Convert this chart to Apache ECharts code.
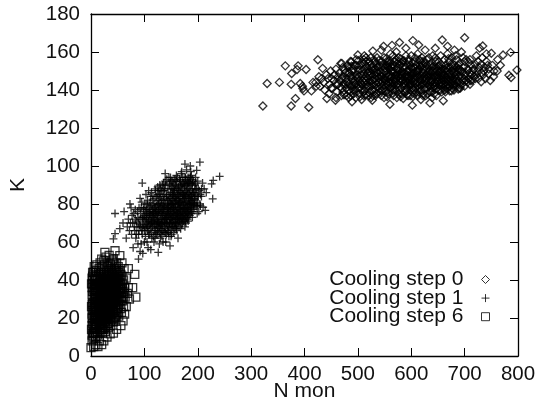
<!DOCTYPE html>
<html><head><meta charset="utf-8">
<script src="https://cdn.jsdelivr.net/npm/echarts@6/dist/echarts.min.js"></script>
<style>html,body{margin:0;padding:0;background:#fff}#c{width:537px;height:404px}</style></head>
<body><div id="c"></div>
<script>
const seriesNames=["Cooling step 0","Cooling step 1","Cooling step 6"];
const xTicks=[0,100,200,300,400,500,600,700,800];
const yTicks=[0,20,40,60,80,100,120,140,160,180];
const step0=[[322,131.6],[330,143.4],[353,144],[364,152.7],[375,143],[376,148.7],[388,152.7],[386,150.8],[403,150.8],[375,131.6],[383,135.5],[408,130.9],[392,143.4],[397,140.8],[413,139.5],[425,155.9],[434,151.4],[416,144],[399,139.5],[396,142],[548,163],[564,163.5],[578,165],[603,166],[614,163.7],[658,166.3],[700,167.5],[528,160.5],[500,158.4],[468,154],[488,154.9],[798,150.5],[786,159.8],[772,158.4],[783,147.8],[787,146.6],[734,163.2],[750,159.3],[767,153],[560,132.5],[602,132],[635,133.2],[660,134.3],[489,133.8],[458,134.6],[442,135.5],[527,134.6],[585,135.5],[622,137],[672,139.5],[692,141],[710,143],[731,144.3],[472,152],[444,146],[450,141],[436,144],[427,147],[422,142],[755,150],[762,156],[741,159],[728,162],[668,163],[681,161],[645,162],[626,161],[590,162],[572,160],[544,161],[515,157],
[512,158],[536,157],[561,159],[590,158],[612,159],[640,158],[668,159],[694,160],[722,158],
[497,156],[521,155],[549,157],[571,156],[584,155],[607,157],[629,156],[651,155],[676,157],[703,156],[733,157],
[470,154],[493,153],[515,155],[534,154],[553,153],[568,155],[583,154],[598,153],[617,155],[636,154],[652,153],[671,155],[690,154],[712,153],[741,155],
[459,151],[482,152],[503,153],[520,151],[538,152],[556,153],[572,151],[589,152],[603,151],[621,153],[639,152],[655,151],[673,152],[688,153],[706,151],[727,152],[752,153],
[449,150],[476,149],[491,151],[508,150],[524,149],[541,150],[559,151],[574,149],[592,150],[606,149],[624,151],[641,150],[658,149],[676,150],[691,151],[709,149],[724,150],[745,151],[761,150],
[441,148],[463,147],[484,149],[498,148],[515,147],[531,148],[546,149],[563,147],[579,148],[595,147],[611,149],[628,148],[643,147],[661,148],[679,149],[694,147],[713,148],[731,149],[754,147],
[432,146],[455,145],[471,147],[489,146],[503,145],[519,146],[536,147],[552,145],[568,146],[584,145],[599,147],[616,146],[632,145],[648,146],[664,147],[683,145],[699,146],[718,147],[739,146],
[421,144],[447,143],[466,145],[481,144],[496,143],[512,144],[527,145],[543,143],[558,144],[573,143],[589,145],[604,144],[620,143],[637,144],[652,145],[669,143],[686,144],[703,145],[726,146],
[429,142],[452,141],[473,143],[487,142],[502,141],[518,142],[534,143],[549,141],[565,142],[581,141],[597,143],[612,142],[628,141],[644,142],[659,143],[677,141],[695,143],
[438,140],[461,139],[478,141],[494,140],[510,139],[526,140],[541,141],[557,139],[571,140],[588,139],[603,141],[619,140],[635,139],[651,140],[668,141],[684,142],
[446,138],[469,137],[486,139],[503,138],[519,137],[535,138],[552,139],[567,137],[582,138],[598,137],[614,139],[630,138],[647,137],[663,140],
[459,136],[483,136],[507,135],[528,137],[549,136],[573,136],[594,137],[618,135],[639,136],
[508,154],[527,152],[545,155],[563,152],[579,153],[595,155],[609,153],[627,154],[646,155],[664,153],[681,153],[698,152],[717,151],[737,152],
[489,150],[505,148],[518,149],[533,151],[550,150],[567,150],[583,150],[600,149],[615,151],[633,150],[650,148],[667,150],[684,148],[702,149],[720,146],
[478,146],[495,145],[511,146],[526,147],[544,147],[560,146],[576,147],[591,148],[608,146],[624,147],[640,146],[656,147],[673,146],[690,147],[708,146],
[463,143],[477,143],[492,144],[507,143],[522,142],[539,144],[555,143],[570,144],[586,143],[601,143],[617,145],[634,142],[649,144],[665,144],[681,143],
[470,141],[484,140],[499,141],[515,141],[530,139],[546,140],[562,141],[578,140],[593,141],[609,139],[625,141],[641,141],[657,139],[672,142],
[492,138],[511,137],[525,136],[540,139],[558,138],[576,138],[590,139],[606,138],[622,138],[638,139],[655,140],
[530,156],[558,155],[576,157],[595,156],[620,157],[645,157],[662,156],[685,156],[710,156],[725,155],
[481,149],[512,151],[537,149],[553,148],[570,148],[586,149],[603,149],[620,149],[637,149],[654,150],[670,148],[687,150],
[496,147],[514,145],[529,143],[548,146],[564,144],[580,146],[596,145],[612,144],[628,146],[644,144],[661,145],[677,145],
[478,144.5],[486,147.5],[493,142.5],[501,150.5],[506,143.5],[511,148.5],[517,152.5],[523,144.5],[528,150.5],[533,146],[538,141.5],[541,153],[546,144.5],[551,151.5],[555,146.5],[557,142.5],[560,154],[565,149.5],[569,145],[574,151.5],[575,141.5],[578,155],[582,147.5],[585,152],[587,143.5],[593,146.5],[597,151],[599,141.5],[602,154.5],[606,147.5],[610,143.5],[613,150.5],[618,147.5],[622,155],[625,144.5],[630,151.5],[633,142.5],[636,148],[642,152.5],[645,144],[648,150],[653,142.5],[656,153.5],[659,146],[663,150.5],[668,145.5],[672,149],[675,143.5],[680,151.5],[685,146],[693,150],[700,147.5],
[488,152.5],[499,146.5],[507,140.5],[512,154],[521,147.5],[526,142.5],[531,155],[535,149.5],[543,147.5],[547,152.5],[552,143.5],[554,155],[561,148],[566,140],[567,152.5],[572,146],[577,143],[581,148.5],[586,155.5],[590,144.5],[594,150],[598,143],[601,147.5],[605,152],[608,141],[611,146.5],[616,153],[619,142.5],[623,149],[627,145.5],[631,147],[635,153],[638,145],[641,143],[647,151],[651,146.5],[655,144],[660,151],[665,142.5],[669,152],[674,148],[678,143],[683,149.5],[689,144.5],[696,149.5],[705,144],
[475,150.5],[483,143],[490,147.5],[497,153],[504,150.5],[509,145],[516,143],[520,149.5],[525,153.5],[530,145.5],[537,152],[542,145.5],[548,142.5],[553,150],[558,147.5],[562,143.5],[566,153.5],[571,147.5],[577,150],[583,145],[588,147],[592,153.5],[596,142],[600,151.5],[604,146],[607,155],[612,148],[615,143],[621,151],[626,143],[629,153],[634,147],[639,150],[643,142],[649,147],[653,149.5],[658,143],[662,148],[666,151.5],[671,144.5],[676,153],[682,147],[688,151],[697,145],[707,150.5],[714,145],
[491,140],[500,143],[513,139.5],[524,151.5],[532,141],[539,146.5],[544,139.5],[550,146],[556,152],[559,141],[563,150],[568,143],[573,154],[579,144.5],[584,149],[589,140.5],[594,143.5],[600,145.5],[605,140],[610,150],[614,141],[618,152.5],[623,146],[629,143.5],[632,149],[637,141],[642,147.5],[646,140.5],[650,152.5],[657,148],[663,143],[667,146.5],[675,147],[679,145],[686,152],[692,142.5],
[472,139],[479,137],[487,137],[496,136],[504,136.5],[515,137.5],[522,138.5],[533,137],[544,137],[555,136.5],[565,138.5],[580,136.5],[592,137.5],[603,136.5],[612,137],[627,137],[643,138],[660,141],[675,139.5],[688,140.5],
[501,155.5],[511,156],[524,157],[539,155.5],[553,156.5],[566,158],[580,156.5],[600,158],[615,156],[633,157],[655,158],[670,156.5],[683,158],[697,157],[708,154.5],[720,153.5],[731,153.5],[745,148.5],[735,148],[722,148],[711,145],
[465,149],[470,146],[467,141.5],[456,148],[451,146],[460,143],[474,137.5],[481,153],[486,155],[700,155],[715,150],[700,142],[690,141],[680,140],[664,139],[736,150],[748,145],[743,153]];
const step1=[[204,102],[176,101],[186,100],[241,94.5],[229,92.4],[226,90.6],[96,91],[228,82.7],[214,76.6],[45,75],[42,61.6],[45,64.4],[126,54.5],[89,51],[54,67],[73,80],[161,66],[182,71],[139,96],[198,97.7],[210,78.3],[170,97],[160,95],[152,92],[186,94],[200,92],[120,88],[108,87],[212,88],[205,85],[66,62],[60,70],[70,72],[62,76],[79,57],[97,54],[112,56],[118,60],[135,60],[148,58],[163,62],[176,68],
[72,66],[78,70],[80,75],[84,62],[86,68],[88,73],[90,78],[92,83],[94,59],[96,64],[98,69],[100,74],[101,80],[103,85],[105,60],[106,66],[108,71],[109,76],[111,81],[113,86],[114,62],[116,68],[117,73],[119,78],[120,83],[122,64],[123,69],[125,75],[126,80],[128,85],[129,90],[130,62],[131,67],[133,72],[134,77],[136,82],[137,87],[139,92],[140,65],[141,70],[143,75],[144,80],[146,85],[147,90],[149,94],[150,63],[151,68],[153,73],[154,78],[156,83],[157,88],[159,93],[160,67],[161,72],[163,77],[164,82],[166,87],[167,92],[169,96],[170,69],[171,74],[173,79],[174,84],[176,89],[177,94],[179,98],[180,73],[181,78],[183,83],[184,88],[186,91],[187,97],[189,76],[191,81],[192,86],[194,90],[196,94],[198,79],[200,84],[201,88],[204,80],[207,84],[209,91],[216,86],
[76,64],[82,66],[85,71],[89,64],[91,69],[93,75],[95,81],[97,72],[99,78],[102,63],[104,69],[107,74],[110,64],[112,70],[115,77],[118,71],[121,66],[124,72],[127,67],[127,77],[132,70],[135,75],[138,68],[138,79],[142,73],[145,68],[145,78],[148,83],[152,70],[152,80],[155,75],[155,86],[158,70],[158,80],[162,75],[162,85],[165,71],[165,80],[168,77],[168,86],[172,72],[172,82],[175,77],[175,86],[178,70],[178,81],[182,76],[182,86],[185,80],[188,84],[190,73],[193,78],[195,84],[199,75],[202,76],[124,80],[130,84],[135,87],[142,84],[150,88],[154,91],[163,90],[172,91],[181,92],[190,93],[116,82],[110,79],[104,77],[146,63],[155,65],[168,67],[140,60],[128,59],[120,62],[100,60],[88,59],[92,55],[107,57],[83,77],[75,78],[68,68],[122,74],[133,66],[148,76],[158,74],[167,74],[177,74],[187,79],[196,88],[149,72],[143,66],[137,70],[131,79],[125,85],[119,66],[113,74],[106,82],[98,77],
[101,68],[103,72],[105,75],[107,68],[109,72],[111,67],[113,70],[115,73],[117,76],[118,80],[120,70],[121,75],[122,79],[124,68],[125,71],[126,76],[127,82],[128,70],[129,74],[130,78],[131,72],[132,76],[132,82],[133,69],[134,74],[135,79],[136,71],[136,77],[137,74],[138,83],[139,72],[139,76],[140,80],[141,73],[141,85],[142,77],[143,82],[144,71],[144,76],[145,74],[145,82],[146,78],[147,73],[147,81],[148,70],[148,79],[149,75],[149,86],[150,77],[150,83],[151,73],[151,80],[152,75],[152,85],[153,71],[153,82],[154,76],[154,84],[155,72],[155,80],[156,77],[156,87],[157,74],[157,81],[158,77],[158,84],[159,72],[159,79],[160,75],[160,82],[160,88],[161,77],[161,84],[162,72],[162,80],[163,74],[163,87],[164,78],[164,85],[165,75],[165,83],[166,72],[166,81],[167,78],[167,84],[168,74],[168,89],[169,81],[169,76],[170,79],[170,86],[171,76],[171,83],[172,78],[172,88],[173,75],[173,85],[174,81],[174,78],[175,83],[175,90],[176,75],[176,80],[177,85],[177,78],[178,84],[178,90],[179,77],[179,87],[180,81],[180,85],[181,75],[181,88],[182,80],[183,77],[183,91],[184,85],[185,83],[185,76],[186,78],[186,87],[187,84],[188,80],[188,90],[189,85],[190,82],[190,88],[192,79],[193,83],[194,86],
[110,75],[112,77],[114,71],[116,75],[119,72],[121,78],[123,76],[125,66],[126,70],[128,77],[129,81],[130,69],[131,75],[133,80],[134,70],[135,84],[137,78],[138,72],[140,74],[142,70],[143,78],[146,75],[147,68],[149,80],[150,72],[152,78],[153,85],[155,78],[157,70],[159,83],[161,75],[164,73],[166,77],[168,81],[170,73],[172,85],[174,74],[176,83],[178,76],[180,78],[182,83],[184,80],[186,82],[188,76],[191,86],
[74,70],[77,74],[81,68],[83,72],[85,64],[87,76],[89,70],[90,66],[92,72],[93,68],[94,78],[95,66],[96,73],[97,68],[99,73],[100,66],[101,71],[102,76],[103,67],[104,73],[105,80],[106,70],[107,78],[108,64],[110,69],[111,74],[112,84],[113,65],[114,79],[115,68],[116,84],[117,63],[118,75],[119,69],[120,76],[121,87],[122,71],[123,84],[124,64],[125,89],[126,73],[127,87],[128,65],[129,68],[130,88],[131,64],[132,87],[133,63],[134,90],[135,66],[136,91],[137,65],[138,88],[139,67],[140,90],[141,64],[142,93],[143,69],[144,88],[145,65],[146,94],[147,70],[148,91],[149,66],[150,92],[151,64],[152,89],[153,68],[154,88],[155,69],[156,93],[157,67],[158,90],[159,68],[160,92],[161,69],[162,94],[163,70],[164,89],[165,68],[166,93],[167,71],[168,92],[169,72],[170,90],[171,70],[172,94],[173,71],[174,91],[175,72],[176,94],[177,71],[178,93],[179,73],[180,91],[181,72],[182,94],[183,73],[184,92],[185,74],[186,94],[187,75],[188,95],[189,80],[190,91],[191,77],[192,92],[193,80],[194,82],[195,79],[196,91],[197,84],[198,88],[199,81],[200,79],[201,84],[203,87],[205,79],[207,88]];
const step6=[[26,54.5],[45,55.4],[54,52.8],[11,48],[82,43],[84,31],[70,46],[78,36],[0,4.4],[20,6],[36,11.6],[60,18.5],[2,8],[5,5],[9,6],[13,5],[16,8],[1,14],[2,20],[1,26],[2,32],[1,38],[3,44],[6,47],[34,53],[40,50],[48,49],[58,49],[62,46],[66,41],[70,36],[72,30],[66,26],[63,22],[56,16],[48,14],[42,12],[30,10],[24,8],
[4,10],[8,10],[12,11],[17,12],[22,12],[27,13],[32,15],[37,16],[42,18],[47,19],[52,21],[57,23],[61,26],[5,15],[9,15],[14,16],[19,17],[24,17],[29,19],[34,20],[39,22],[44,23],[49,25],[54,27],[59,29],[64,31],[68,33],[4,20],[8,21],[13,21],[18,22],[23,23],[28,24],[33,25],[38,26],[43,28],[48,29],[53,31],[58,33],[63,36],[5,25],[9,26],[14,26],[19,27],[24,28],[29,29],[34,30],[39,31],[44,32],[49,34],[54,36],[59,38],[4,30],[8,31],[13,31],[18,32],[23,33],[28,34],[33,35],[38,36],[43,37],[48,38],[53,40],[58,42],[5,35],[9,36],[14,36],[19,37],[24,38],[29,39],[34,40],[39,41],[44,42],[49,43],[54,45],[4,40],[8,41],[13,41],[18,42],[23,43],[28,44],[33,45],[38,46],[43,46],[48,46],[10,45],[15,46],[20,47],[25,48],[30,49],[36,49],[42,51],[20,51],[28,52],
[6,12],[11,13],[16,14],[21,15],[26,15],[31,17],[36,18],[41,20],[46,21],[51,23],[56,25],[7,18],[12,19],[17,19],[22,20],[27,21],[32,22],[37,24],[42,25],[47,27],[52,29],[57,31],[62,33],[6,23],[11,24],[16,24],[21,25],[26,26],[31,27],[36,28],[41,30],[46,31],[51,33],[56,35],[61,40],[6,28],[11,29],[16,29],[21,30],[26,31],[31,32],[36,33],[41,34],[46,35],[51,37],[56,40],[7,33],[12,34],[17,34],[22,35],[27,36],[32,37],[37,38],[42,39],[47,41],[52,42],[6,38],[11,38],[16,39],[21,40],[26,41],[31,42],[36,43],[41,44],[46,44],[51,47],
[3,12],[7,14],[10,17],[15,20],[20,14],[25,22],[30,25],[35,23],[40,27],[45,29],[50,30],[3,17],[7,20],[10,23],[15,24],[20,19],[25,20],[30,21],[35,27],[40,33],[45,36],[50,39],[3,24],[7,25],[10,28],[15,28],[20,22],[25,25],[30,28],[35,31],[40,37],[45,40],[50,41],[3,28],[7,30],[10,33],[15,33],[20,26],[25,30],[30,33],[35,34],[40,39],[45,33],[55,33],[3,34],[7,35],[10,37],[15,38],[20,32],[25,34],[30,36],[35,38],[40,43],[55,38],[3,38],[7,40],[10,42],[15,43],[20,35],[25,37],[30,40],[35,42],[3,42],[9,19],[13,23],[18,25],[23,30],[28,27],[33,32],[38,29],[43,33],[48,35],[13,27],[18,29],[23,26],[28,31],[33,28],[38,33],[43,35],[48,41],[13,30],[18,35],[23,36],[28,37],[33,38],[38,40],[43,41],[13,38],[18,39],[23,41],[28,41],[33,42],
[2,11],[5,12],[9,12],[13,13],[18,14],[23,14],[28,16],[33,17],[38,19],[44,20],[49,22],[2,16],[6,16],[11,17],[16,18],[21,18],[26,18],[31,20],[36,21],[41,23],[46,24],[51,27],[2,22],[6,21],[11,21],[16,21],[21,21],[26,23],[31,24],[36,25],[41,26],[46,27],[51,28],[56,29],[2,27],[7,27],[12,27],[17,26],[22,26],[27,26],[32,26],[37,28],[42,29],[47,30],[52,33],[57,36],[2,36],[7,37],[12,36],[17,31],[22,31],[27,29],[32,30],[37,31],[42,32],[47,33],[52,35],[2,41],[7,42],[12,40],[17,37],[22,37],[27,33],[32,34],[37,35],[42,36],[47,37],[52,38],[5,44],[9,44],[14,44],[19,44],[24,44],[29,43],[34,43],[39,44],[44,45],[49,44],[60,34],[61,31],[17,49],[24,50],[32,47],[37,48],[45,48],[52,44],[56,43],[59,36]];
const black="#000";
const textColor="#111";
function dataSeries(i,data,symbol,size){
  return {name:seriesNames[i],type:"scatter",data,symbol,symbolSize:size,silent:true,animation:false,
    itemStyle:{color:"transparent",borderColor:black,borderWidth:1.3},emphasis:{disabled:true}};
}
const plus="path://M0 5H10M5 0V10";
const chart=echarts.init(document.getElementById("c"),null,{renderer:"canvas"});
const labelStyle={fontFamily:"Liberation Sans",fontSize:20.5,color:textColor};
const lineStyle={color:black,width:1.3};
const tick={show:true,inside:true,length:8,lineStyle:{color:black,width:1}};
chart.setOption({
  animation:false,
  backgroundColor:"#fff",
  grid:{left:91,top:14,right:19,bottom:48,show:false,outerBoundsMode:"none"},
  xAxis:[
    {type:"value",min:0,max:800,interval:100,position:"bottom",name:"N mon",nameLocation:"middle",nameGap:25,nameMoveOverlap:false,
     nameTextStyle:{fontFamily:"Liberation Sans",fontSize:21,color:textColor},
     axisLine:{show:true,onZero:false,lineStyle},axisTick:tick,
     axisLabel:Object.assign({margin:8,showMinLabel:true,showMaxLabel:true},labelStyle),splitLine:{show:false}},
    {type:"value",min:0,max:800,interval:100,position:"top",
     axisLine:{show:true,onZero:false,lineStyle},axisTick:tick,
     axisLabel:{show:false},splitLine:{show:false}}
  ],
  yAxis:[
    {type:"value",min:0,max:180,interval:20,position:"left",name:"K",nameLocation:"middle",nameGap:62,nameRotate:90,nameMoveOverlap:false,
     nameTextStyle:{fontFamily:"Liberation Sans",fontSize:21,color:textColor},
     axisLine:{show:true,onZero:false,lineStyle},axisTick:tick,
     axisLabel:Object.assign({margin:11,showMinLabel:true,showMaxLabel:true},labelStyle),splitLine:{show:false}},
    {type:"value",min:0,max:180,interval:20,position:"right",
     axisLine:{show:true,onZero:false,lineStyle},axisTick:tick,
     axisLabel:{show:false},splitLine:{show:false}}
  ],
  legend:{show:true,orient:"vertical",align:"right",right:47,top:269,itemGap:-2.4,itemWidth:8,itemHeight:8,padding:0,
    selectedMode:false,
    textStyle:{fontFamily:"Liberation Sans",fontSize:21,color:textColor,lineHeight:19,height:19,padding:[0,13,0,0]},
    data:seriesNames.map((n,i)=>({name:n,icon:i==0?"diamond":i==1?plus:"rect",
      itemStyle:{color:"transparent",borderColor:black,borderWidth:1}}))},
  series:[dataSeries(0,step0,"diamond",8),dataSeries(1,step1,plus,8),dataSeries(2,step6,"rect",8)]
});
</script></body></html>
